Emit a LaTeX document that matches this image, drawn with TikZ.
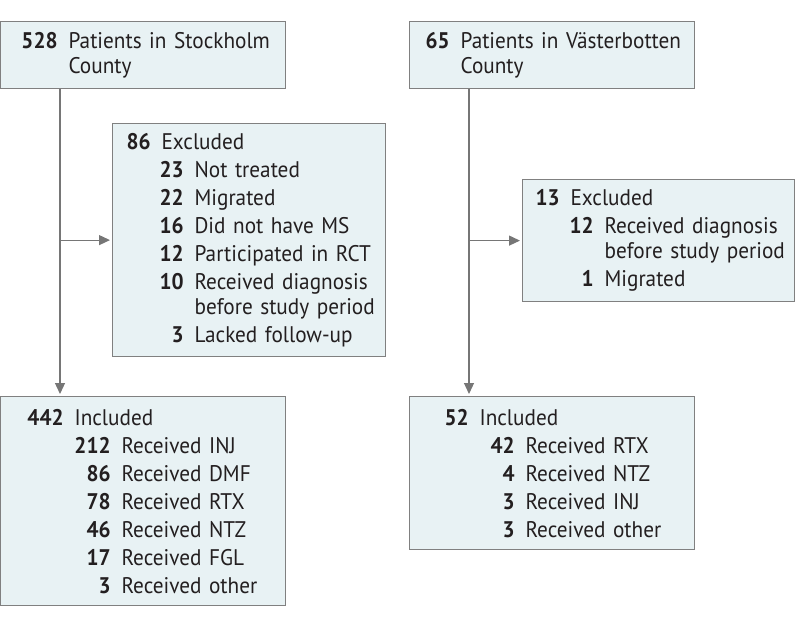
\documentclass[tikz,border=0pt]{standalone}
\usepackage{fontspec}
\setmainfont{PT Sans}[FakeStretch=0.94]
\usepackage{xcolor}
\usepackage{tikz}
\usetikzlibrary{arrows.meta, positioning}

\definecolor{boxfill}{RGB}{232,242,244}
\definecolor{boxline}{RGB}{128,128,128}
\definecolor{wire}{RGB}{118,118,118}
\definecolor{ink}{RGB}{35,31,32}

\newlength{\numgap}
\setlength{\numgap}{5.5pt}
\newcommand{\countrow}[3]{\makebox[#1][r]{\bfseries #2}\hspace{\numgap}\mbox{#3}}
\newcommand{\wrapline}[1]{\\[-1.5pt]\hspace*{\dimexpr#1+\numgap\relax}}

\begin{document}
\begin{tikzpicture}[x=0.5pt, y=-0.5pt, font=\fontsize{11.3}{14}\selectfont, text=ink,
		flowbox/.style={draw=boxline, fill=boxfill, line width=0.6pt, inner xsep=0pt, inner ysep=0pt, anchor=north west, align=left},
		flow/.style={draw=wire, line width=0.6pt, shorten >=1pt, -{Triangle[length=5.5pt, width=5pt]}}]
			\useasboundingbox (0,0) rectangle (798,627);
			
			% Stockholm County
			\node[flowbox, text width=142.5pt, minimum height=33.5pt] (STHLM) at (0,21)
			{\countrow{28.5pt}{528}{Patients in Stockholm}\wrapline{28.5pt}County};
			
			\node[flowbox, text width=136.5pt, minimum height=116.5pt] (STHLMEX) at (112,123)
			{\countrow{19pt}{86}{Excluded}\\
				\countrow{35.5pt}{23}{Not treated}\\
				\countrow{35.5pt}{22}{Migrated}\\
				\countrow{35.5pt}{16}{Did not have MS}\\
				\countrow{35.5pt}{12}{Participated in RCT}\\
				\countrow{35.5pt}{10}{Received diagnosis}\wrapline{35.5pt}before study period\\
				\countrow{35.5pt}{3}{Lacked follow-up}};
			
			\node[flowbox, text width=142.5pt, minimum height=104.5pt] (STHLMIN) at (0,396)
			{\countrow{31.5pt}{442}{Included}\\
				\countrow{55pt}{212}{Received INJ}\\
				\countrow{55pt}{86}{Received DMF}\\
				\countrow{55pt}{78}{Received RTX}\\
				\countrow{55pt}{46}{Received NTZ}\\
				\countrow{55pt}{17}{Received FGL}\\
				\countrow{55pt}{3}{Received other}};
			
			% Vasterbotten County
			\node[flowbox, text width=142.5pt, minimum height=33.5pt] (VBTN) at (409,21)
			{\countrow{20pt}{65}{Patients in Västerbotten}\wrapline{20pt}County};
			
			\node[flowbox, text width=136pt, minimum height=61pt] (VBTNEX) at (522,179)
			{\countrow{18.5pt}{13}{Excluded}\\
				\countrow{35.5pt}{12}{Received diagnosis}\wrapline{35.5pt}before study period\\
				\countrow{35.5pt}{1}{Migrated}};
			
			\node[flowbox, text width=142.5pt, minimum height=76.5pt] (VBTNIN) at (409,396)
			{\countrow{29.5pt}{52}{Included}\\
				\countrow{52.5pt}{42}{Received RTX}\\
				\countrow{52.5pt}{4}{Received NTZ}\\
				\countrow{52.5pt}{3}{Received INJ}\\
				\countrow{52.5pt}{3}{Received other}};
			
			\coordinate (STHLMTRUNK) at ([xshift=30pt]STHLM.south west);
			\coordinate (VBTNTRUNK) at ([xshift=30pt]VBTN.south west);
			
			\draw[flow] (STHLMTRUNK) -- (STHLMTRUNK |- STHLMIN.north);
			\draw[flow] (STHLMTRUNK |- STHLMEX.west) -- (STHLMEX.west);
			\draw[flow] (VBTNTRUNK) -- (VBTNTRUNK |- VBTNIN.north);
			\draw[flow] (VBTNTRUNK |- VBTNEX.west) -- (VBTNEX.west);
\end{tikzpicture}
\end{document}
